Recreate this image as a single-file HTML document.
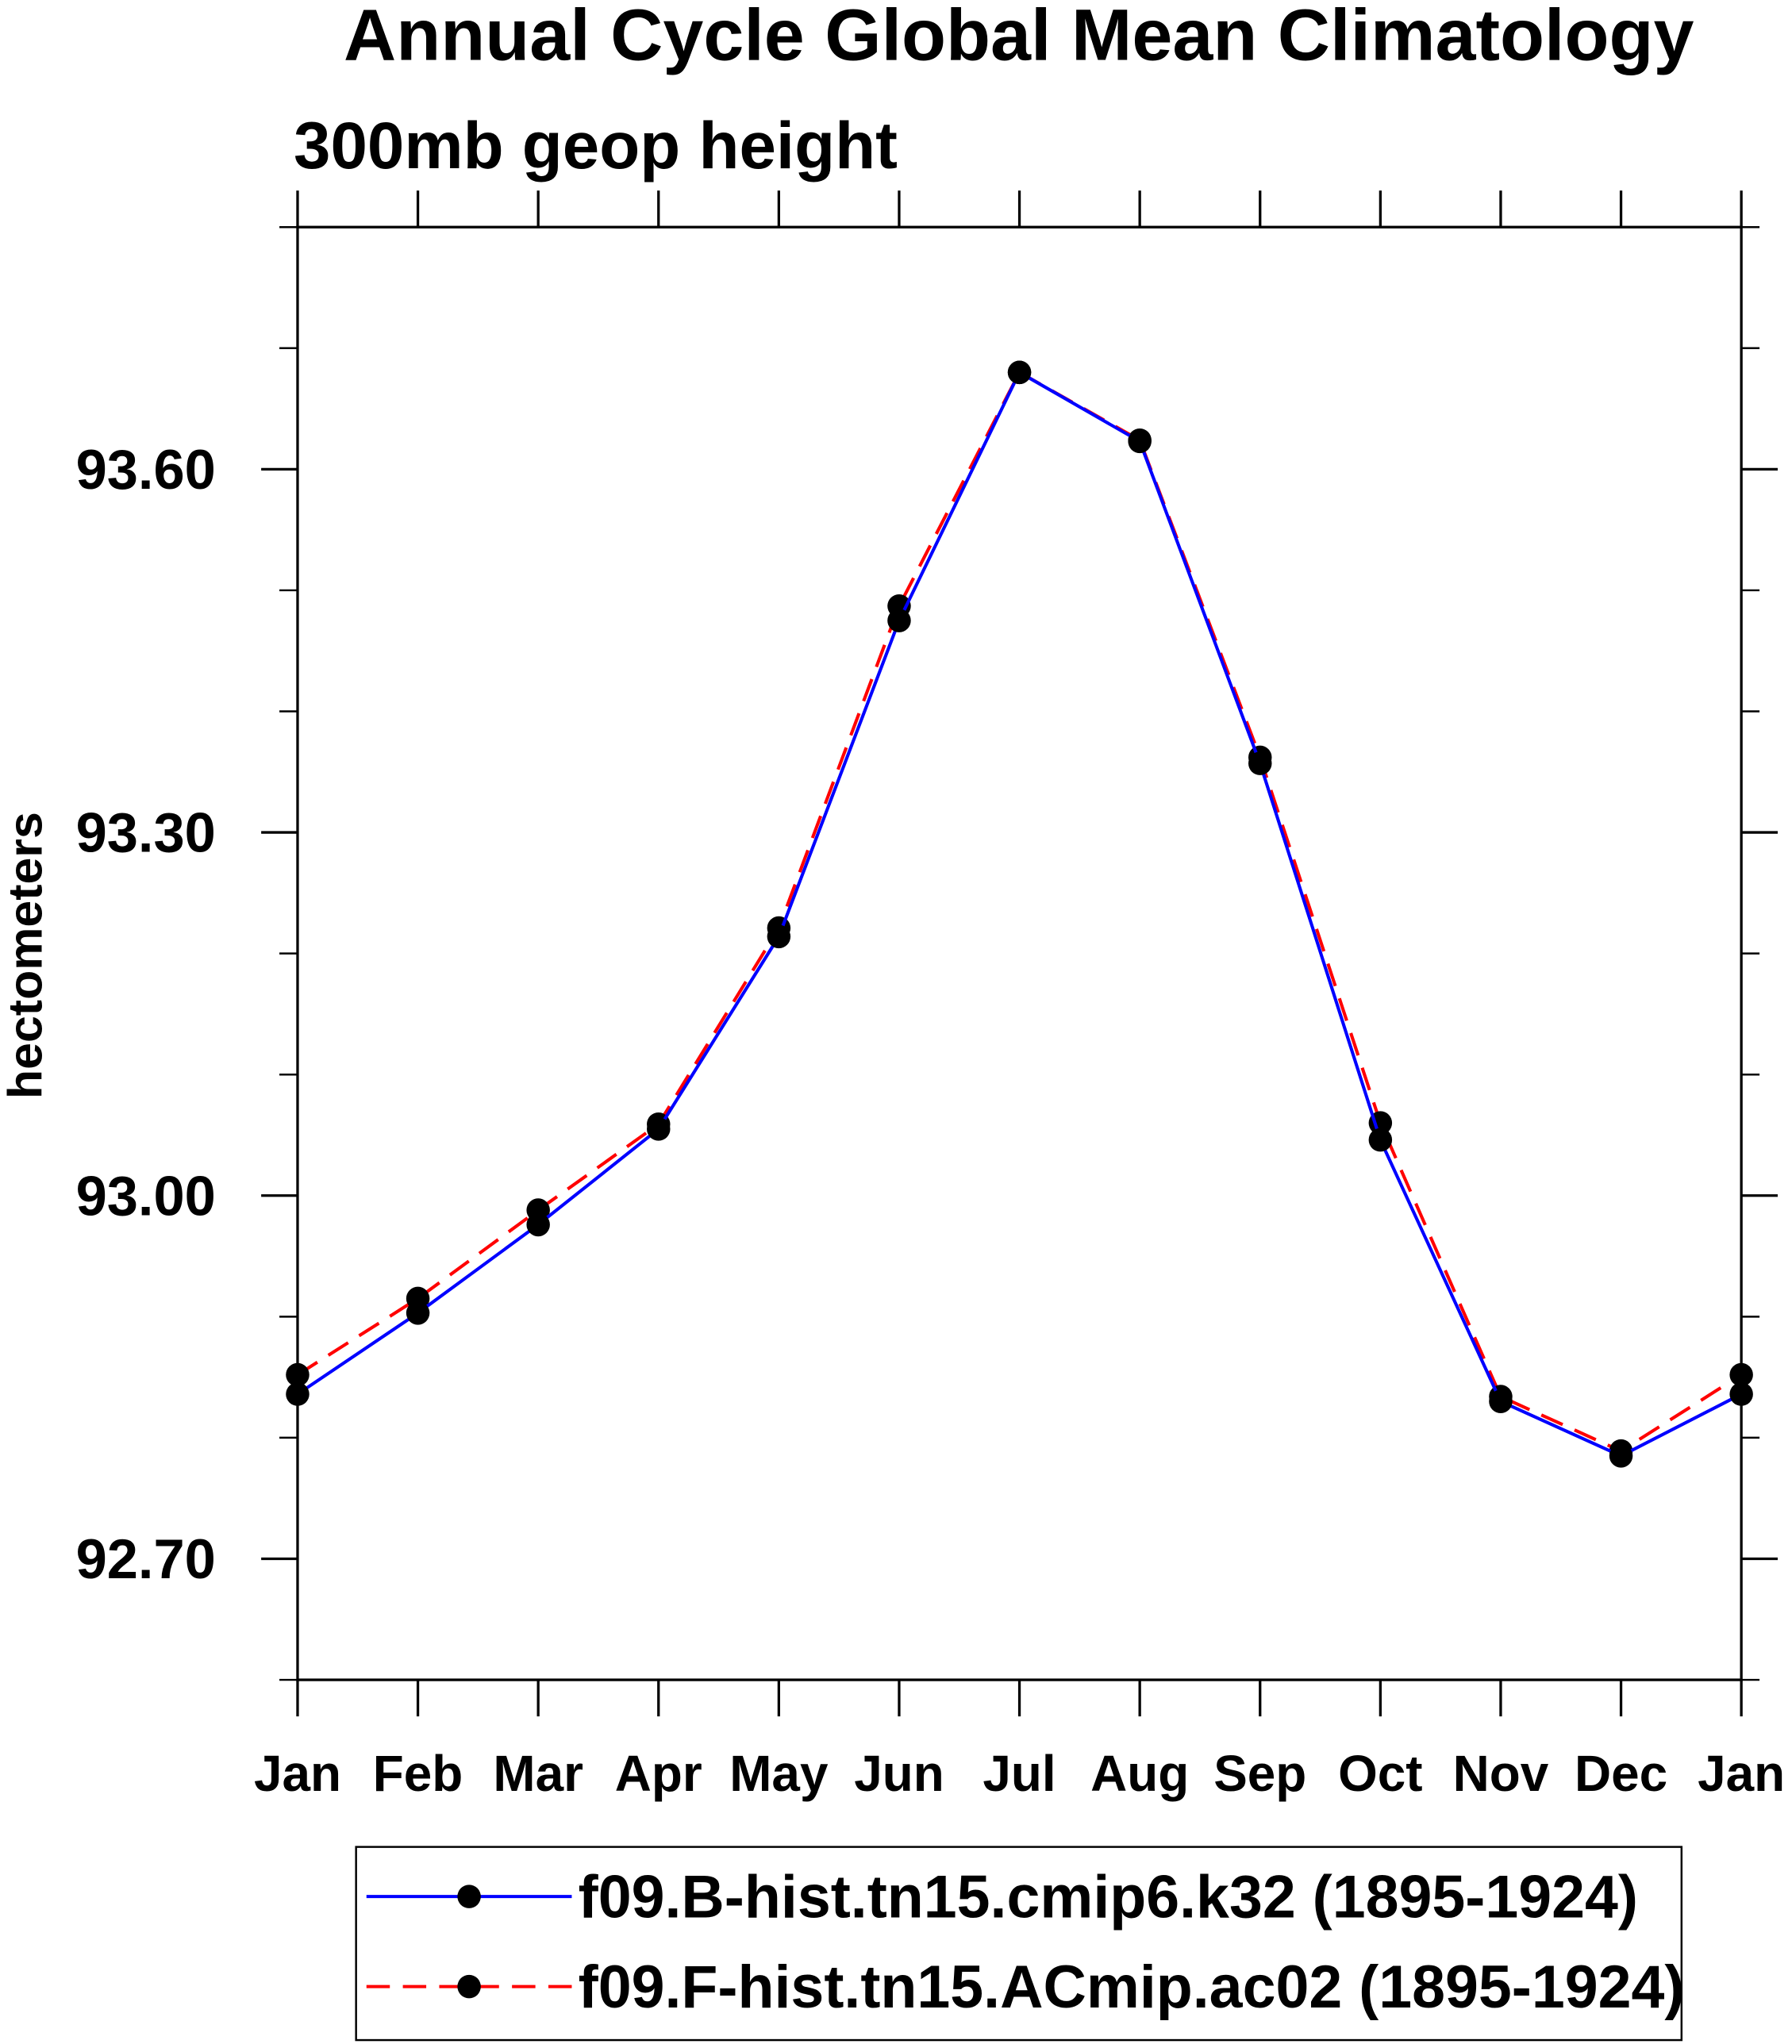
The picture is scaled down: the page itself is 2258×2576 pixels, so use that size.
<!DOCTYPE html>
<html><head><meta charset="utf-8"><style>
html,body{margin:0;padding:0;background:#fff;}
svg{display:block;}
text{font-family:"Liberation Sans",Arial,sans-serif;font-weight:bold;fill:#000;}
</style></head><body>
<svg id="chart" width="2258" height="2576" viewBox="0 0 1379 1566" preserveAspectRatio="none" xmlns="http://www.w3.org/2000/svg">
<text x="784" y="46" font-size="56" text-anchor="middle">Annual Cycle Global Mean Climatology</text>
<text x="226" y="129" font-size="51">300mb geop height</text>
<text transform="translate(32,732) rotate(-90)" font-size="37" text-anchor="middle">hectometers</text>
<rect x="229" y="174" width="1111" height="1113" fill="none" stroke="#000" stroke-width="2"/>
<g id="axes"></g>
<g id="series"></g>
<g>
<rect x="274" y="1415" width="1020" height="148" fill="none" stroke="#000" stroke-width="1.5"/>
<g>
<line x1="282" y1="1453" x2="440" y2="1453" stroke="#0000ff" stroke-width="2.5"/>
<circle cx="361" cy="1453" r="9" fill="#000"/>
<text x="445" y="1469" font-size="46">f09.B-hist.tn15.cmip6.k32 (1895-1924)</text>
</g>
<g>
<line x1="282" y1="1522" x2="440" y2="1522" stroke="#ff0000" stroke-width="2.5" stroke-dasharray="18,10"/>
<circle cx="361" cy="1522" r="9" fill="#000"/>
<text x="445" y="1538" font-size="46">f09.F-hist.tn15.ACmip.ac02 (1895-1924)</text>
</g>
</g>
</svg>
<script>
const months = ["Jan","Feb","Mar","Apr","May","Jun","Jul","Aug","Sep","Oct","Nov","Dec","Jan"];
const seriesB = [92.836,92.903,92.976,93.055,93.214,93.475,93.680,93.623,93.357,93.046,92.830,92.785,92.836];
const seriesF = [92.852,92.915,92.988,93.059,93.221,93.487,93.680,93.624,93.362,93.060,92.834,92.789,92.852];
const yTicks = [92.70,93.00,93.30,93.60];
const yTickLabels = ["92.70","93.00","93.30","93.60"];
const yMinorTicks = [92.6,92.7,92.8,92.9,93.0,93.1,93.2,93.3,93.4,93.5,93.6,93.7,93.8];

const L=229,R=1340,T=174,B=1287,YMIN=92.6,YMAX=93.8;
function xs(i){return L+(R-L)*i/(months.length-1);}
function ys(v){return B-(v-YMIN)/(YMAX-YMIN)*(B-T);}
const NS="http://www.w3.org/2000/svg";
function mk(tag,attrs,parent){const e=document.createElementNS(NS,tag);for(const k in attrs)e.setAttribute(k,attrs[k]);parent.appendChild(e);return e;}
const axes=document.getElementById('axes');
months.forEach((m,i)=>{
  const x=xs(i);
  const t1=mk('line',{x1:x,y1:B,x2:x,y2:B+28,stroke:'#000','stroke-width':2},axes);
  
  
  const t2=mk('line',{x1:x,y1:T,x2:x,y2:T-28,stroke:'#000','stroke-width':2},axes);
  
  
  const tx=mk('text',{x:x,y:1372,'font-size':39,'text-anchor':'middle'},axes);
  tx.textContent=m;
  
  
});
yMinorTicks.forEach(v=>{
  const y=ys(v);
  const a=mk('line',{x1:L,y1:y,x2:L-14,y2:y,stroke:'#000','stroke-width':1.5},axes);
  
  
  const b=mk('line',{x1:R,y1:y,x2:R+14,y2:y,stroke:'#000','stroke-width':1.5},axes);
  
  
});
yTicks.forEach((v,i)=>{
  const y=ys(v);
  const a=mk('line',{x1:L,y1:y,x2:L-28,y2:y,stroke:'#000','stroke-width':2},axes);
  
  
  const b=mk('line',{x1:R,y1:y,x2:R+28,y2:y,stroke:'#000','stroke-width':2},axes);
  
  
  const t=mk('text',{x:166,y:y+15,'font-size':43,'text-anchor':'end'},axes);
  t.textContent=yTickLabels[i];
  
  
});
const g=document.getElementById('series');
function draw(vals,color,dash,name){
  const pts=vals.map((v,i)=>xs(i)+','+ys(v)).join(' ');
  const attrs={points:pts,fill:'none',stroke:color,'stroke-width':2.5};
  if(dash)attrs['stroke-dasharray']=dash;
  const pl=mk('polyline',attrs,g);
  
  
  vals.forEach((v,i)=>{
    const c=mk('circle',{cx:xs(i),cy:ys(v),r:9,fill:'#000'},g);
    
    
  });
}
draw(seriesF,'#ff0000','18,10','series-f-hist');
draw(seriesB,'#0000ff',null,'series-b-hist');
</script>
</body></html>
